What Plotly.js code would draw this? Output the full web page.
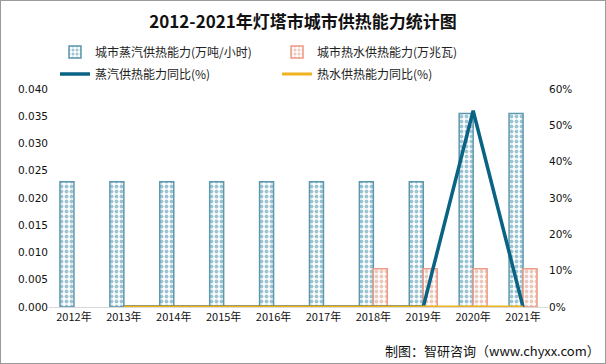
<!DOCTYPE html>
<html><head><meta charset="utf-8">
<script src="https://cdn.plot.ly/plotly-3.0.1.min.js"></script>
<style>body{margin:0;padding:0;background:#fff}#wrap{position:relative;width:606px;height:364px}#frame{position:absolute;left:0;top:0;width:606px;height:364px;box-sizing:border-box;border:1px solid #9a9a9a;pointer-events:none}</style>
</head><body><div id="wrap"><div id="chart" style="width:606px;height:364px"></div><div id="frame"></div></div>
<script>
var years = ['2012年','2013年','2014年','2015年','2016年','2017年','2018年','2019年','2020年','2021年'];
var steamCap = [0.023,0.023,0.023,0.023,0.023,0.023,0.023,0.023,0.0355,0.0355];
var waterCap = [null,null,null,null,null,null,0.007,0.007,0.007,0.007];
var steamYoY = [null,0,0,0,0,0,0,0,54,0];
var waterYoY = [null,0,0,0,0,0,0,0,0,0];
var font = 'Noto Sans CJK SC, DejaVu Sans, sans-serif';
var traces = [
 {type:'bar', name:'城市蒸汽供热能力(万吨/小时)', x:years, y:steamCap, legend:'legend',
  marker:{color:'#ffffff', line:{color:'#5b97ad', width:1.5}, pattern:{shape:'.', fgcolor:'#9cc4d2', bgcolor:'#ffffff', size:5, solidity:0.45}}},
 {type:'bar', name:'城市热水供热能力(万兆瓦)', x:years, y:waterCap, legend:'legend2',
  marker:{color:'#ffffff', line:{color:'#ee9a84', width:1.5}, pattern:{shape:'.', fgcolor:'#ecc9bd', bgcolor:'#ffffff', size:5, solidity:0.45}}},
 {type:'scatter', mode:'lines', name:'蒸汽供热能力同比(%)', x:years, y:steamYoY, yaxis:'y2', legend:'legend3',
  line:{color:'#0b6384', width:3.5}},
 {type:'scatter', mode:'lines', name:'热水供热能力同比(%)', x:years, y:waterYoY, yaxis:'y2', legend:'legend4',
  line:{color:'#f0b21e', width:3}}
];
function lg(x, y){ return {orientation:'h', x:x, xanchor:'left', y:y, yanchor:'middle', bgcolor:'rgba(0,0,0,0)', font:{family:font, size:12, color:'#222'}}; }
var layout = {
 width:606, height:364,
 margin:{l:49, r:58, t:89, b:57},
 paper_bgcolor:'#fff', plot_bgcolor:'#fff',
 font:{family:font, size:11, color:'#222'},
 title:{text:'<b>2012-2021年灯塔市城市供热能力统计图</b>', x:0.5, xanchor:'center', y:0.94, yanchor:'middle', font:{family:font, size:17, color:'#111'}},
 barmode:'group', bargap:0.44, bargroupgap:0,
 showlegend:true,
 legend:lg(0.012, 1.17), legend2:lg(0.457, 1.17), legend3:lg(0.012, 1.069), legend4:lg(0.457, 1.069),
 xaxis:{type:'category', showgrid:false, zeroline:false, showline:true, linecolor:'#d9d9d9', linewidth:1, ticks:'', tickfont:{family:font, size:11, color:'#111'}},
 yaxis:{range:[0,0.04], dtick:0.005, tickformat:'.3f', showgrid:false, zeroline:false, showline:false, ticks:'', tickfont:{family:'DejaVu Sans, sans-serif', size:10.5, color:'#111'}},
 yaxis2:{overlaying:'y', side:'right', range:[0,60], dtick:10, ticksuffix:'%', showgrid:false, zeroline:false, showline:false, ticks:'', tickfont:{family:'DejaVu Sans, sans-serif', size:10.5, color:'#111'}},
 annotations:[
  {xref:'paper', yref:'paper', x:1.108, y:-0.145, xanchor:'right', yanchor:'top', showarrow:false, text:'制图：智研咨询（www.chyxx.com）', font:{family:font, size:13, color:'#111'}}
 ]
};
Plotly.newPlot('chart', traces, layout, {displayModeBar:false, staticPlot:true});
</script></body></html>
